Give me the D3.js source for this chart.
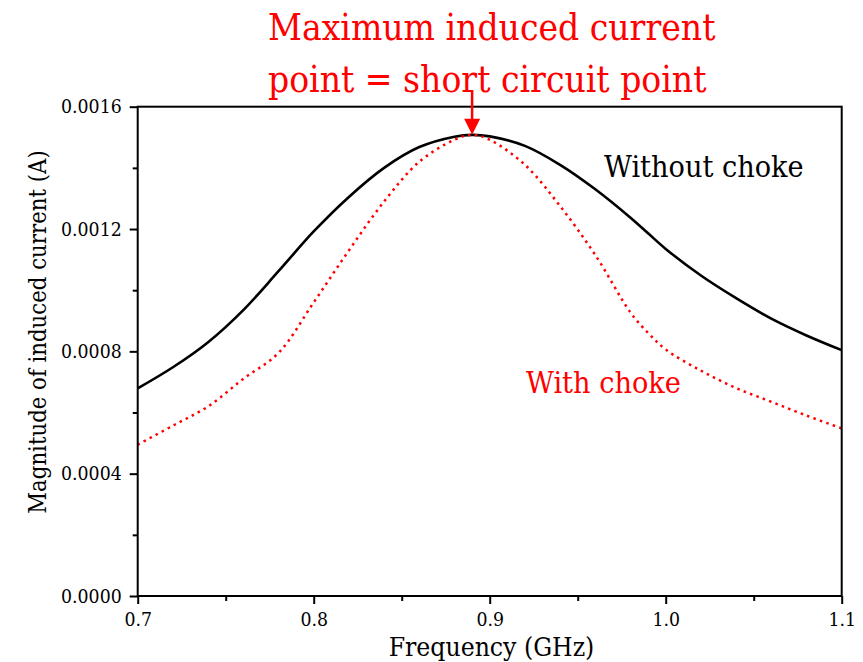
<!DOCTYPE html>
<html><head><meta charset="utf-8">
<script src="https://cdn.jsdelivr.net/npm/d3@7"></script>
<style>body{margin:0;background:#fff}svg{display:block}
svg text{font-family:"DejaVu Serif Condensed","Liberation Serif",serif}</style>
</head><body>
<svg id="c" width="863" height="662"></svg>
<script>
const freq = [0.70,0.72,0.74,0.76,0.78,0.80,0.82,0.84,0.86,0.88,0.89,0.90,0.92,0.94,0.96,0.98,0.99,1.00,1.02,1.04,1.06,1.08,1.10];
const withoutChoke = [0.000679,0.000748,0.000830,0.000935,0.001062,0.001192,0.001305,0.001400,0.001468,0.001502,0.001508,0.001503,0.001472,0.001410,0.001330,0.001237,0.001186,0.001135,0.001048,0.000974,0.000907,0.000852,0.000804];
const withChoke = [0.000495,0.000557,0.000620,0.000710,0.000795,0.000960,0.001130,0.001290,0.001420,0.001492,0.001508,0.001492,0.001410,0.001275,0.001115,0.000927,0.000860,0.000806,0.000737,0.000680,0.000635,0.000590,0.000548];
const xTicks = [0.7,0.8,0.9,1.0,1.1];
const xMinor = [0.75,0.85,0.95,1.05];
const yTicks = [0,0.0004,0.0008,0.0012,0.0016];
const yMinor = [0.0002,0.0006,0.0010,0.0014];
const peakFreq = 0.89, peakVal = 0.001508;

// font scale so the condensed serif matches Times metrics
const cv=document.createElement('canvas').getContext('2d');
const sample='Maximum induced current 0.0016';
cv.font='40px "Liberation Serif"'; const wT=cv.measureText(sample).width;
cv.font='40px "DejaVu Serif Condensed","Liberation Serif"'; const wD=cv.measureText(sample).width;
const k=(wT>0&&wD>0)?wT/wD:1;
const fs=s=>s*k;

const W=863,H=662, m={l:137.7,r:21.3,t:106.7,b:66};
const svg=d3.select('#c');
const x=d3.scaleLinear().domain([0.7,1.1]).range([m.l,W-m.r]);
const y=d3.scaleLinear().domain([0,0.0016]).range([H-m.b,m.t]);

const line=d3.line().x((d,i)=>x(freq[i])).y(d=>y(d)).curve(d3.curveCatmullRom.alpha(0.5));
svg.append('path').datum(withoutChoke).attr('d',line).attr('fill','none').attr('stroke','#000').attr('stroke-width',2.6);
svg.append('path').datum(withChoke).attr('d',line).attr('fill','none').attr('stroke','#ff0000').attr('stroke-width',2.5).attr('stroke-dasharray','2.5,4.3');

const xAx=svg.append('g').attr('transform',`translate(0,${H-m.b})`)
  .call(d3.axisBottom(x).tickValues(xTicks).tickFormat(d3.format('.1f')).tickSize(8).tickPadding(8));
const xMin=svg.append('g').attr('transform',`translate(0,${H-m.b})`)
  .call(d3.axisBottom(x).tickValues(xMinor).tickFormat('').tickSize(5));
const yAx=svg.append('g').attr('transform',`translate(${m.l},0)`)
  .call(d3.axisLeft(y).tickValues(yTicks).tickFormat(d3.format('.4f')).tickSize(8).tickPadding(8));
const yMin=svg.append('g').attr('transform',`translate(${m.l},0)`)
  .call(d3.axisLeft(y).tickValues(yMinor).tickFormat('').tickSize(5));
[xAx,xMin,yAx,yMin].forEach(g=>{
  g.attr('font-family',null);
  g.select('.domain').remove();
  g.selectAll('line').attr('stroke','#000').attr('stroke-width',2);
  g.selectAll('text').attr('font-size',fs(22)).attr('fill','#000');
});
svg.append('rect').attr('x',m.l).attr('y',m.t).attr('width',W-m.l-m.r).attr('height',H-m.t-m.b)
  .attr('fill','none').attr('stroke','#000').attr('stroke-width',2);

svg.append('text').attr('x',(385+598)/2).attr('y',656).attr('text-anchor','middle')
  .attr('font-size',fs(30)).text('Frequency (GHz)');
svg.append('text').attr('transform','translate(46,332) rotate(-90)').attr('text-anchor','middle')
  .attr('font-size',fs(27)).text('Magnitude of induced current (A)');

svg.append('text').attr('x',268).attr('y',40).attr('fill','#ff0000').attr('font-size',fs(42)).text('Maximum induced current');
svg.append('text').attr('x',268).attr('y',92).attr('fill','#ff0000').attr('font-size',fs(42)).text('point = short circuit point');
svg.append('text').attr('x',604).attr('y',177).attr('fill','#000').attr('font-size',fs(34.5)).text('Without choke');
svg.append('text').attr('x',526).attr('y',393).attr('fill','#ff0000').attr('font-size',fs(34.5)).text('With choke');

const ax=x(peakFreq), ay=y(peakVal);
svg.append('line').attr('x1',ax).attr('x2',ax).attr('y1',90).attr('y2',ay-12).attr('stroke','#ff0000').attr('stroke-width',2.5);
svg.append('path').attr('d',`M${ax-8},${ay-16}L${ax+8},${ay-16}L${ax},${ay}Z`).attr('fill','#ff0000');
</script>
</body></html>
